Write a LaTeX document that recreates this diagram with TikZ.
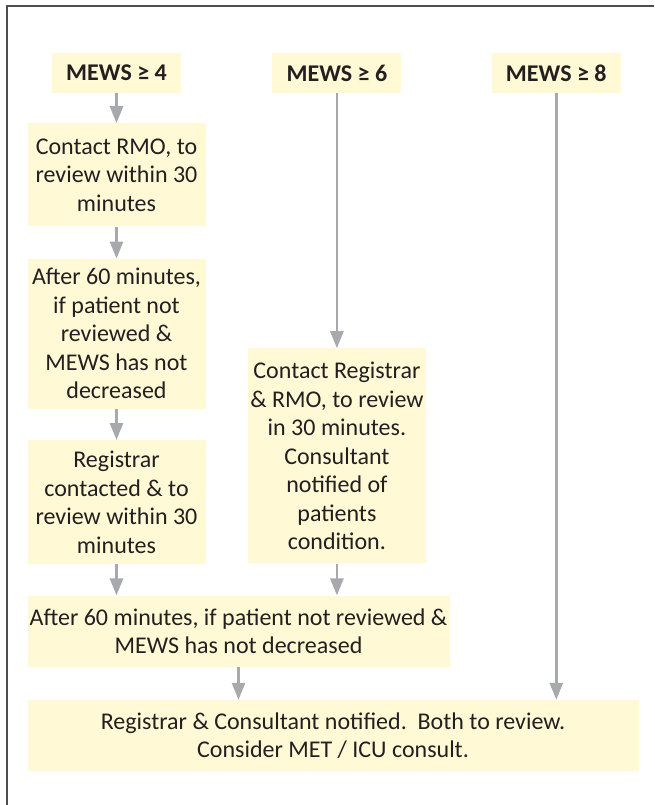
\documentclass[tikz,border=0pt]{standalone}
\usepackage{fontspec}
\setmainfont{Carlito}
\usetikzlibrary{positioning, arrows.meta}
\definecolor{boxfill}{HTML}{FFF9D6}
\definecolor{arrowgray}{HTML}{A7A9AC}
\definecolor{textdark}{HTML}{231F20}
\definecolor{framegray}{HTML}{4D4D4D}

\begin{document}
\begin{tikzpicture}[x=1pt,y=-1pt,
    box/.style={fill=boxfill,text=textdark,align=center,inner sep=0pt,font=\fontsize{24}{28.5}\selectfont},
    mews/.style={box,minimum width=129pt,minimum height=40pt,font=\fontsize{24}{28.5}\selectfont\bfseries},
    col/.style={box,minimum width=178pt},
    flow/.style={-{Triangle[length=17pt,width=13pt]},draw=arrowgray,line width=2.8pt}]
    \useasboundingbox (0,0) rectangle (654,805);
    \draw[framegray,line width=1.5pt] (654,6) -- (7,6) -- (7,805);

    \node[mews] (m4) at (116.5,73) {MEWS ≥ 4};
    \node[mews] (m6) [right=91pt of m4] {MEWS ≥ 6};
    \node[mews] (m8) [right=90pt of m6] {MEWS ≥ 8};

    \node[col,minimum height=103pt] (rmo) [below=30pt of m4] {Contact RMO, to\\review within 30\\minutes};
    \node[col,minimum height=150pt] (wait1) [below=32pt of rmo] {After 60 minutes,\\if patient not\\reviewed \&\\MEWS has not\\decreased};
    \node[col,minimum height=124pt] (regc) [below=31pt of wait1] {Registrar\\contacted \& to\\review within 30\\minutes};
    \node[col,minimum height=215pt] (regn) [below=255pt of m6] {Contact Registrar\\\& RMO, to review\\in 30 minutes.\\Consultant\\notified of\\patients\\condition.};
    \node[box,minimum width=422pt,minimum height=71pt] (wait2) [below right=31pt and 0pt of regc.south west] {After 60 minutes, if patient not reviewed \&\\MEWS has not decreased};
    \node[box,minimum width=611pt,minimum height=71pt] (cons) [below right=33pt and 0pt of wait2.south west] {Registrar \& Consultant notified.\ \ Both to review.\\Consider MET / ICU consult.};

    \draw[flow] (m4) -- (rmo);
    \draw[flow] (rmo) -- (wait1);
    \draw[flow] (wait1) -- (regc);
    \draw[flow] (regc.south) -- (regc.south |- wait2.north);
    \draw[flow] (m6) -- (regn);
    \draw[flow] (regn.south) -- (regn.south |- wait2.north);
    \draw[flow] (wait2.south) -- (wait2.south |- cons.north);
    \draw[flow] (m8.south) -- (m8.south |- cons.north);
\end{tikzpicture}
\end{document}
